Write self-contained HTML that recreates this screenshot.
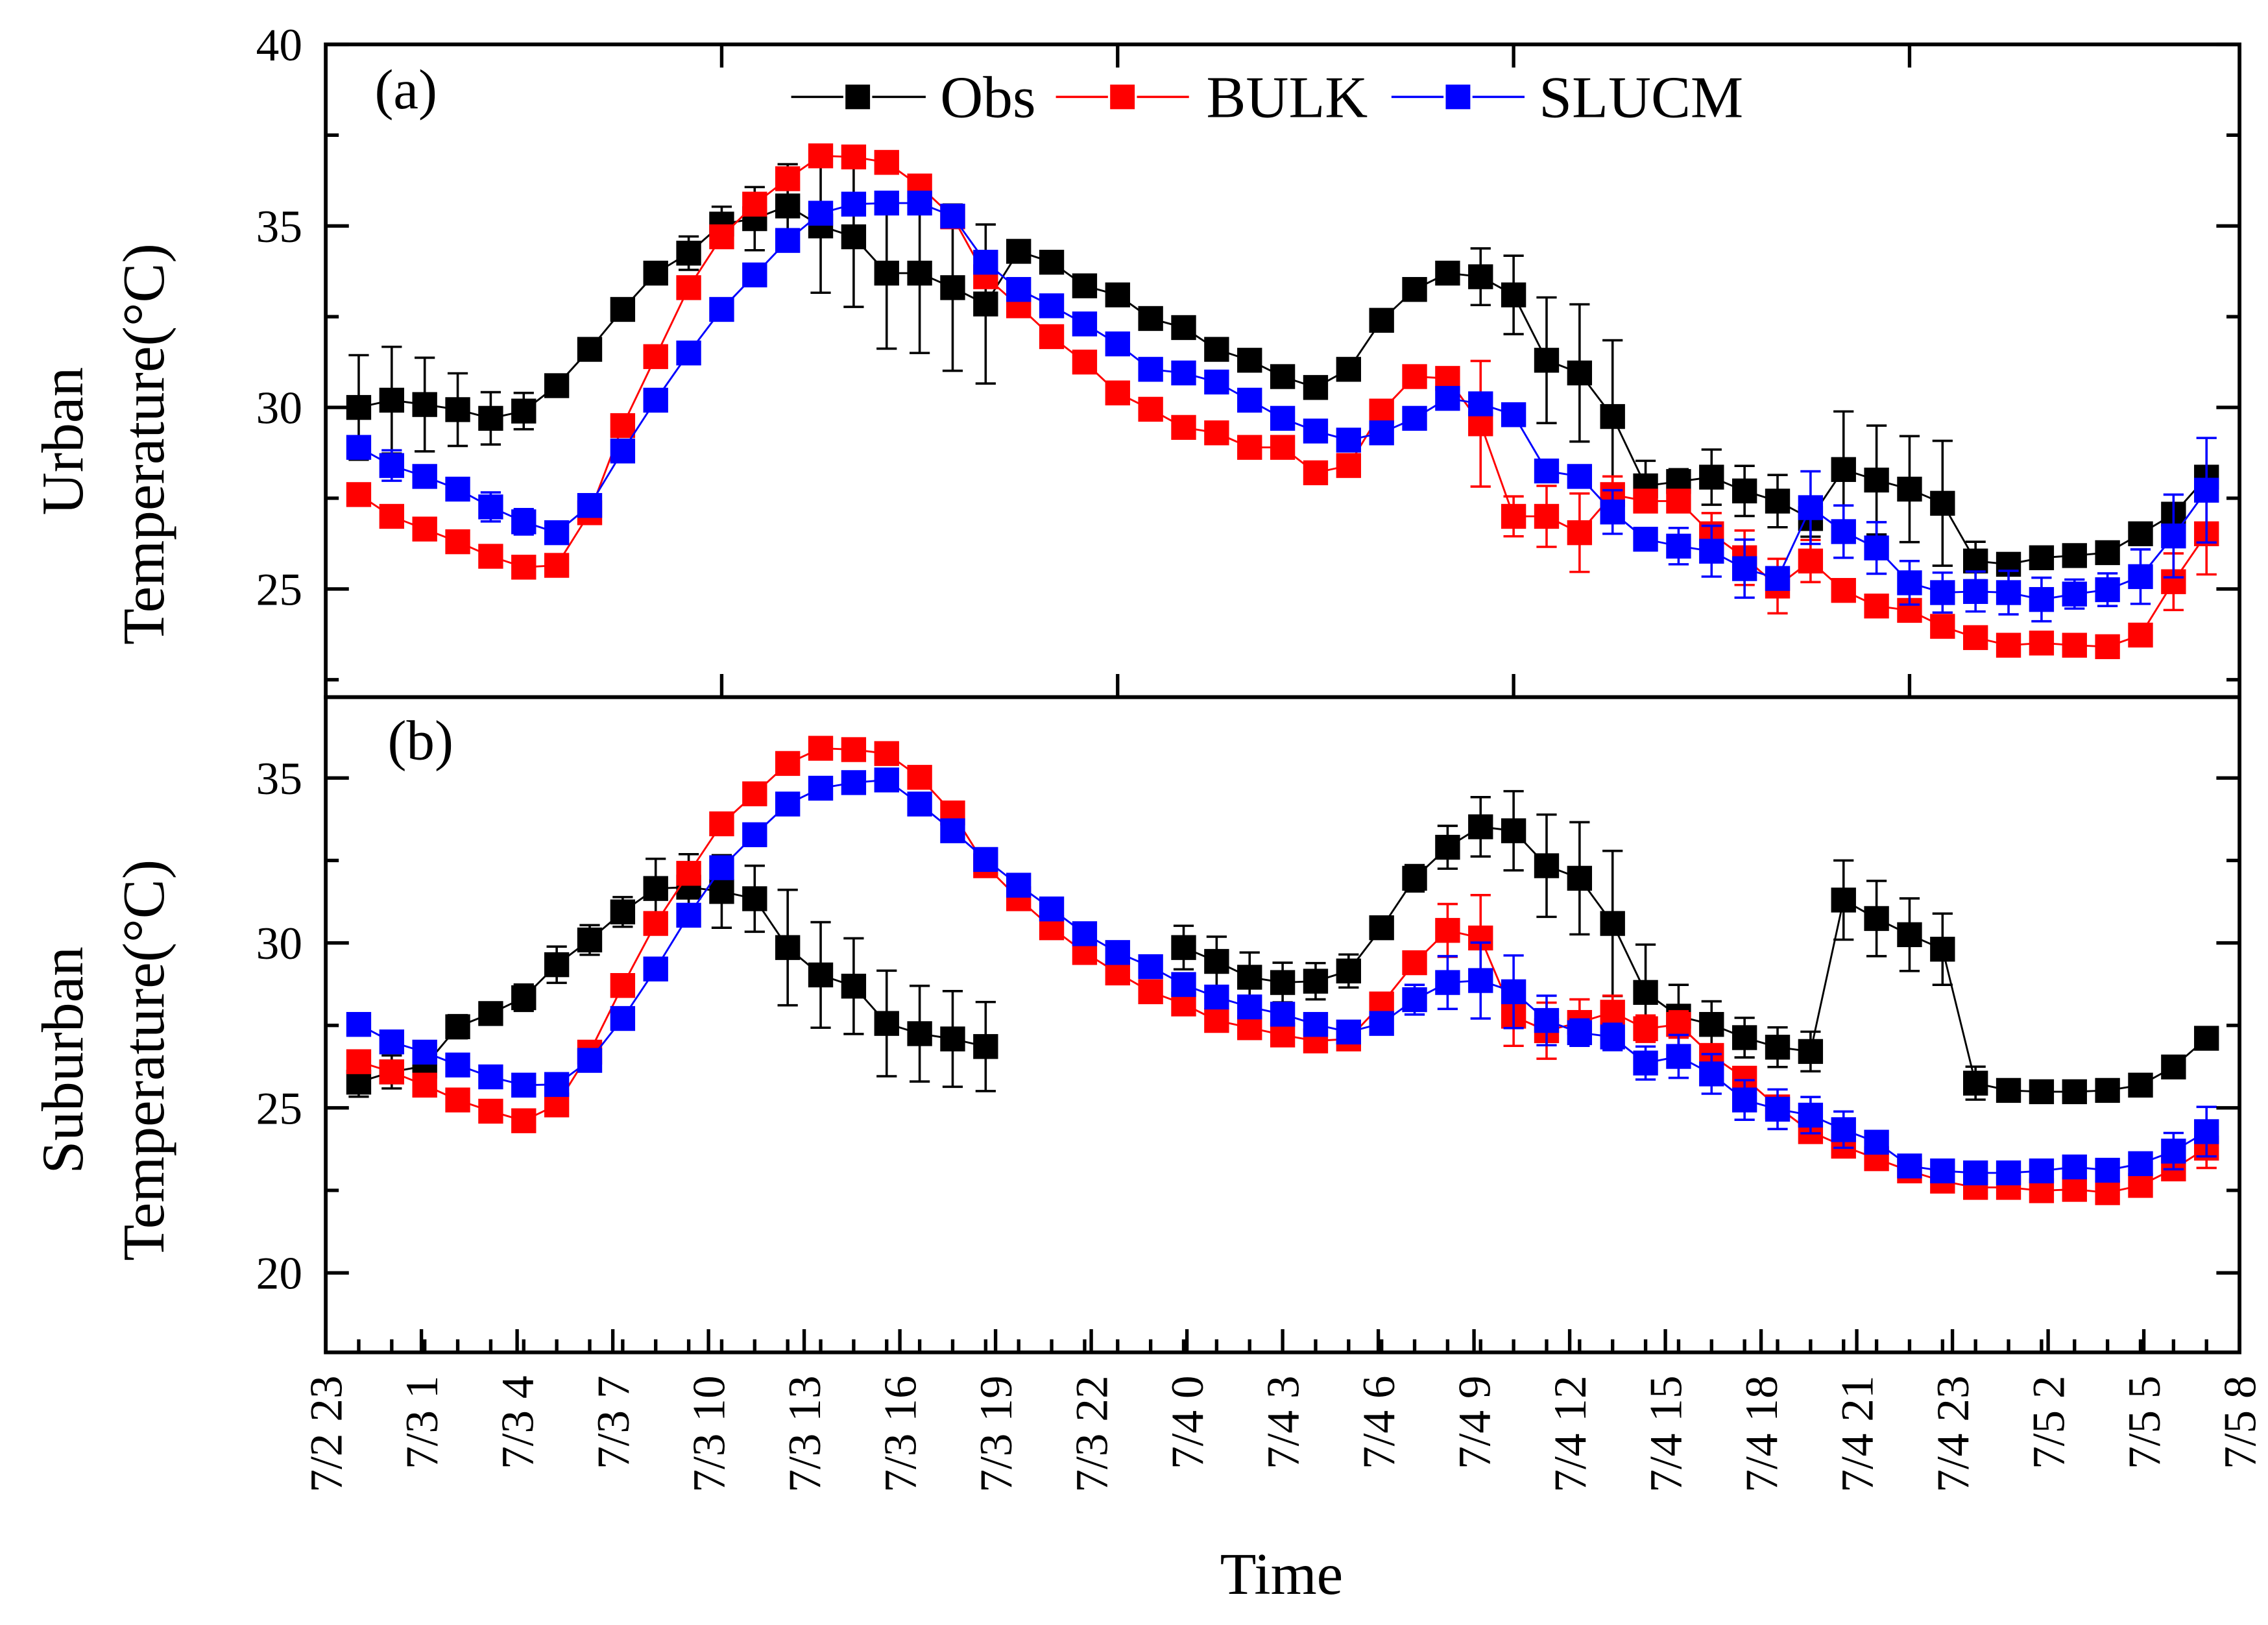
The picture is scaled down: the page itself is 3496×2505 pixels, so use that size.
<!DOCTYPE html>
<html><head><meta charset="utf-8"><style>
html,body{margin:0;padding:0;background:#fff;}
svg{display:block;}
text{font-family:"Liberation Serif","DejaVu Serif",serif;fill:#000;}
</style></head><body>
<svg id="chart" width="3496" height="2505" viewBox="0 0 1568 1123.5" preserveAspectRatio="none" xmlns="http://www.w3.org/2000/svg">
<rect x="0" y="0" width="1568" height="1123.5" fill="#fff"/>
<g id="marks"></g>
<g id="axes"></g>
</svg>
<script>
const xLabels = ["7/2 23","7/3 1","7/3 4","7/3 7","7/3 10","7/3 13","7/3 16","7/3 19","7/3 22","7/4 0","7/4 3","7/4 6","7/4 9","7/4 12","7/4 15","7/4 18","7/4 21","7/4 23","7/5 2","7/5 5","7/5 8"];
const yTicksA = [25,30,35,40];
const yTicksB = [20,25,30,35];
const obsA = [30.0,30.2,30.08,29.94,29.7,29.9,30.6,31.6,32.7,33.7,34.25,35.05,35.2,35.55,35.0,34.7,33.7,33.7,33.3,32.85,34.3,34.0,33.35,33.1,32.45,32.2,31.6,31.3,30.85,30.55,31.05,32.4,33.25,33.7,33.6,33.1,31.3,30.95,29.75,27.84,27.96,28.08,27.7,27.42,26.94,28.29,28.0,27.75,27.36,25.77,25.68,25.86,25.92,26.0,26.52,27.06,28.08];
const obsAErr = [1.44,1.47,1.29,1.0,0.72,0.5,0.2,0.2,0.2,0.2,0.46,0.48,0.87,1.15,1.84,1.93,2.08,2.2,2.29,2.19,0.15,0.15,0.15,0.15,0.15,0.15,0.15,0.15,0.2,0.3,0.3,0.3,0.2,0.2,0.78,1.08,1.73,1.89,2.1,0.69,0.34,0.76,0.69,0.72,0.5,1.6,1.5,1.46,1.72,0.53,0.15,0.15,0.15,0.15,0.15,0.2,0.2];
const bulkA = [27.6,27.0,26.65,26.3,25.9,25.6,25.65,27.1,29.5,31.4,33.3,34.7,35.6,36.3,36.93,36.9,36.75,36.1,35.25,33.6,32.8,31.95,31.25,30.4,29.95,29.45,29.3,28.9,28.9,28.2,28.4,29.9,30.85,30.8,29.55,27.0,27.0,26.55,27.6,27.42,27.42,26.52,25.86,25.08,25.77,24.96,24.53,24.41,23.97,23.66,23.45,23.51,23.45,23.41,23.73,25.2,26.52];
const bulkAErr = [0.1,0.1,0.1,0.1,0.1,0.1,0.1,0.1,0.1,0.1,0.1,0.1,0.1,0.1,0.1,0.1,0.1,0.1,0.1,0.1,0.1,0.1,0.1,0.1,0.1,0.1,0.1,0.1,0.1,0.1,0.1,0.1,0.1,0.1,1.73,0.55,0.84,1.08,0.5,0.3,0.1,0.57,0.75,0.75,0.58,0.1,0.1,0.1,0.1,0.1,0.1,0.1,0.1,0.1,0.1,0.78,1.12];
const slucmA = [28.9,28.4,28.1,27.75,27.26,26.85,26.55,27.3,28.8,30.2,31.5,32.7,33.65,34.6,35.35,35.6,35.63,35.63,35.27,34.0,33.25,32.8,32.3,31.75,31.05,30.95,30.7,30.2,29.7,29.35,29.1,29.3,29.7,30.25,30.1,29.8,28.25,28.1,27.12,26.37,26.18,26.04,25.56,25.29,27.24,26.58,26.13,25.17,24.9,24.93,24.9,24.71,24.86,24.98,25.34,26.46,27.72];
const slucmAErr = [0.2,0.42,0.3,0.25,0.4,0.35,0.1,0.1,0.1,0.1,0.1,0.1,0.1,0.1,0.1,0.1,0.1,0.1,0.1,0.1,0.1,0.1,0.1,0.1,0.3,0.3,0.3,0.1,0.1,0.1,0.1,0.1,0.1,0.1,0.1,0.1,0.3,0.1,0.6,0.3,0.5,0.7,0.8,0.3,1.0,0.72,0.71,0.6,0.55,0.55,0.6,0.6,0.4,0.45,0.75,1.14,1.44];
const obsB = [25.78,26.09,26.27,27.46,27.86,28.34,29.34,30.09,30.94,31.65,31.69,31.56,31.34,29.86,29.03,28.69,27.56,27.25,27.09,26.86,null,null,null,null,null,29.86,29.44,28.96,28.8,28.84,29.15,30.46,31.96,32.9,33.52,33.4,32.34,31.96,30.59,28.5,27.78,27.53,27.13,26.84,26.71,31.3,30.74,30.25,29.81,25.75,25.53,25.49,25.49,25.53,25.69,26.24,27.11];
const obsBErr = [0.44,0.5,0.3,0.35,0.2,0.4,0.55,0.45,0.45,0.9,1.0,1.1,1.0,1.75,1.6,1.45,1.6,1.45,1.45,1.35,0,0,0,0,0,0.66,0.75,0.75,0.6,0.55,0.5,0.2,0.4,0.65,0.9,1.2,1.55,1.7,2.2,1.45,0.95,0.7,0.6,0.6,0.6,1.2,1.14,1.1,1.08,0.5,0.15,0.1,0.1,0.1,0.1,0.15,0.2];
const bulkB = [26.4,26.09,25.69,25.24,24.9,24.61,25.09,26.69,28.71,30.59,32.11,33.61,34.52,35.44,35.9,35.86,35.74,35.02,33.94,32.34,31.34,30.46,29.71,29.09,28.52,28.15,27.65,27.43,27.21,27.03,27.09,28.15,29.4,30.38,30.15,27.78,27.34,27.59,27.9,27.4,27.53,26.59,25.9,25.03,24.28,23.84,23.46,23.09,22.78,22.59,22.59,22.49,22.53,22.43,22.65,23.15,23.78];
const bulkBErr = [0.1,0.1,0.1,0.1,0.1,0.1,0.1,0.1,0.1,0.1,0.1,0.1,0.1,0.1,0.1,0.1,0.1,0.1,0.1,0.1,0.1,0.1,0.1,0.1,0.1,0.1,0.1,0.1,0.1,0.1,0.1,0.1,0.1,0.8,1.3,0.9,0.85,0.7,0.5,0.4,0.4,0.3,0.3,0.3,0.3,0.1,0.1,0.1,0.1,0.1,0.1,0.1,0.1,0.1,0.1,0.1,0.6];
const slucmB = [27.53,27.0,26.69,26.3,25.94,25.69,25.71,26.44,27.71,29.21,30.84,32.28,33.28,34.21,34.69,34.86,34.94,34.21,33.4,32.53,31.75,31.03,30.28,29.71,29.28,28.74,28.36,28.06,27.84,27.53,27.3,27.56,28.28,28.8,28.86,28.52,27.65,27.28,27.15,26.36,26.56,26.03,25.24,24.96,24.78,24.34,23.96,23.24,23.09,23.03,23.03,23.09,23.21,23.11,23.31,23.69,24.28];
const slucmBErr = [0.1,0.1,0.1,0.1,0.1,0.1,0.1,0.1,0.1,0.1,0.1,0.1,0.1,0.1,0.1,0.1,0.1,0.1,0.1,0.1,0.1,0.1,0.1,0.1,0.1,0.1,0.1,0.1,0.1,0.1,0.1,0.1,0.45,0.8,1.15,1.1,0.75,0.4,0.4,0.5,0.65,0.6,0.6,0.6,0.55,0.55,0.3,0.1,0.1,0.1,0.1,0.1,0.1,0.1,0.1,0.55,0.75];

const NS = "http://www.w3.org/2000/svg";
const L = 225.2, R = 1548.3;
const nPts = obsA.length;
function xScale(i){ return L + (i + 1) * (R - L) / (nPts + 1); }
const panelA = {top: 30.7, bottom: 482, min: 22.02, max: 40};
const panelB = {top: 482, bottom: 935, min: 17.59, max: 37.45};
function yScale(p, v){ return p.bottom - (v - p.min) / (p.max - p.min) * (p.bottom - p.top); }
const marks = document.getElementById('marks');
const axes = document.getElementById('axes');
function mk(tag, attrs, parent){ const e = document.createElementNS(NS, tag); for (const k in attrs) e.setAttribute(k, attrs[k]); parent.appendChild(e); return e; }

function drawSeries(p, vals, errs, color, name){
  const g = mk('g', {}, marks);
  
  
  let d = '', pen = false;
  vals.forEach((v, i) => {
    if (v === null) { pen = false; return; }
    d += (pen ? 'L' : 'M') + xScale(i).toFixed(2) + ' ' + yScale(p, v).toFixed(2);
    pen = true;
  });
  const line = mk('path', {d: d, fill: 'none', stroke: color, 'stroke-width': 1.3}, g);
  
  
  vals.forEach((v, i) => {
    if (v === null) return;
    const x = xScale(i), y = yScale(p, v), e = errs[i] || 0;
    if (e > 0) {
      const y1 = yScale(p, v + e), y2 = yScale(p, v - e);
      const eb = mk('path', {d: `M${x} ${y1}L${x} ${y2}M${x-7} ${y1}L${x+7} ${y1}M${x-7} ${y2}L${x+7} ${y2}`, stroke: color, 'stroke-width': 1.6, fill: 'none'}, g);
      
      
    }
    const r = mk('rect', {x: x - 8.6, y: y - 8.6, width: 17.2, height: 17.2, fill: color}, g);
    
    
  });
}
drawSeries(panelA, obsA, obsAErr, '#000', 'urban-obs');
drawSeries(panelA, bulkA, bulkAErr, '#ff0000', 'urban-bulk');
drawSeries(panelA, slucmA, slucmAErr, '#0000ff', 'urban-slucm');
drawSeries(panelB, obsB, obsBErr, '#000', 'suburban-obs');
drawSeries(panelB, bulkB, bulkBErr, '#ff0000', 'suburban-bulk');
drawSeries(panelB, slucmB, slucmBErr, '#0000ff', 'suburban-slucm');

function frame(p, name){
  const r = mk('rect', {x: L, y: p.top, width: R - L, height: p.bottom - p.top, fill: 'none', stroke: '#000', 'stroke-width': 2.6}, axes);
  
  
}
frame(panelA, 'panel-a-frame');
frame(panelB, 'panel-b-frame');

function yAxis(p, ticks, name){
  let d = '';
  const step = ticks[1] - ticks[0];
  for (let v = ticks[0] - step; v <= p.max + 0.01; v += step / 2) {
    if (v < p.min) continue;
    const y = yScale(p, v);
    const major = ticks.some(t => Math.abs(t - v) < 1e-6);
    const len = major ? 16 : 9;
    d += `M${L} ${y}L${L+len} ${y}M${R} ${y}L${R-len} ${y}`;
  }
  const t = mk('path', {d: d, stroke: '#000', 'stroke-width': 2.4}, axes);
  
  
  ticks.forEach(v => {
    const tx = mk('text', {x: 209, y: yScale(p, v) + 11, 'text-anchor': 'end', 'font-size': 32}, axes);
    tx.textContent = v;
    
    
  });
}
yAxis(panelA, yTicksA, 'urban-y-axis');
yAxis(panelB, yTicksB, 'suburban-y-axis');

(function(){
  let d = '';
  const labStep = (R - L) / (xLabels.length - 1);
  xLabels.forEach((lab, k) => {
    const x = L + k * labStep;
    d += `M${x} ${panelB.bottom}L${x} ${panelB.bottom-16}`;
    const tx = mk('text', {x: 0, y: 0, 'text-anchor': 'end', 'font-size': 32, transform: `translate(${x+11},${951}) rotate(-90)`}, axes);
    tx.textContent = lab;
    
    
  });
  for (let i = 0; i < nPts; i++) { const x = xScale(i); d += `M${x} ${panelB.bottom}L${x} ${panelB.bottom-9}`; }
  for (let k = 1; k < 5; k++) {
    const x = xScale(-1 + 12 * k);
    d += `M${x} ${panelA.top}L${x} ${panelA.top+16}M${x} ${panelA.bottom}L${x} ${panelA.bottom-16}`;
  }
  const t = mk('path', {d: d, stroke: '#000', 'stroke-width': 2.4}, axes);
  
  
})();
</script>
<svg style="position:absolute;left:0;top:0" width="3496" height="2505" viewBox="0 0 1568 1123.5" preserveAspectRatio="none" xmlns="http://www.w3.org/2000/svg">
<text x="259" y="75" font-size="39">(a)</text>
<text x="268" y="525" font-size="39">(b)</text>
<g>
<g>
<path d="M547 67H583M603 67H640" stroke="#000" stroke-width="1.6"/><rect x="584.5" y="58.5" width="17" height="17" fill="#000"/>
<text x="650" y="81" font-size="41">Obs</text></g>
<g>
<path d="M730 67H766M786 67H822" stroke="#ff0000" stroke-width="1.6"/><rect x="767.5" y="58.5" width="17" height="17" fill="#ff0000"/>
<text x="834" y="81" font-size="41">BULK</text></g>
<g>
<path d="M962 67H998M1018 67H1054" stroke="#0000ff" stroke-width="1.6"/><rect x="999.5" y="58.5" width="17" height="17" fill="#0000ff"/>
<text x="1064" y="81" font-size="41">SLUCM</text></g>
</g>
<text transform="translate(57,305) rotate(-90)" text-anchor="middle" font-size="41">Urban</text>
<text transform="translate(113,307) rotate(-90)" text-anchor="middle" font-size="41">Temperature(°C)</text>
<text transform="translate(57,733) rotate(-90)" text-anchor="middle" font-size="41">Suburban</text>
<text transform="translate(113,733) rotate(-90)" text-anchor="middle" font-size="41">Temperature(°C)</text>
<text x="886" y="1102" text-anchor="middle" font-size="41">Time</text>
</svg>
</body></html>
